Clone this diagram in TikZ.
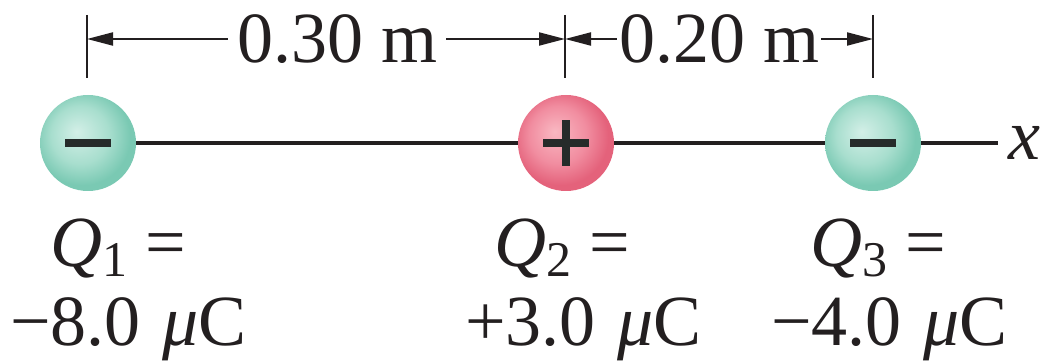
\documentclass[tikz,border=0pt]{standalone}
\usepackage{fontspec}
\setmainfont{Liberation Serif}
\usepackage{xcolor}
\usetikzlibrary{arrows.meta,backgrounds}
\definecolor{ink}{HTML}{231F20}
\definecolor{signc}{HTML}{262B2A}
\definecolor{negin}{HTML}{D3EFE7}
\definecolor{negmid}{HTML}{A8DECE}
\definecolor{negout}{HTML}{7AC9B3}
\definecolor{posin}{HTML}{F9B8C2}
\definecolor{posmid}{HTML}{F18DA0}
\definecolor{posout}{HTML}{E4627B}
\pgfdeclareradialshading{negball}{\pgfpoint{-6bp}{6bp}}{color(0bp)=(negin); color(15bp)=(negmid); color(25bp)=(negout); color(50bp)=(negout)}
\pgfdeclareradialshading{posball}{\pgfpoint{-6bp}{6bp}}{color(0bp)=(posin); color(15bp)=(posmid); color(25bp)=(posout); color(50bp)=(posout)}

\begin{document}
\begin{tikzpicture}[
  x=1pt, y=-1pt,
  font=\fontsize{72}{80}\selectfont,
  charge/.style={circle, minimum size=96pt, inner sep=0pt},
  sign/.style={line width=7.5pt, signc},
  axis/.style={line width=4pt, ink},
  tickln/.style={line width=2pt, ink},
  dim/.style={-{Triangle[length=26pt,width=13pt]}, line width=2pt, ink},
  dimlbl/.style={inner ysep=0pt, text=ink},
  qlbl/.style={anchor=base west, inner sep=0pt, text=ink},
]
\useasboundingbox (0,0) rectangle (1047,363);

% ---------- charges ----------
\node[charge, shading=negball] (q1) at (88,143) {};
\node[charge, shading=posball] (q2) at (566,143) {};
\node[charge, shading=negball] (q3) at (873,143) {};
\draw[sign] ([xshift=-23pt]q1.center) -- ([xshift=23pt]q1.center);
\draw[sign] ([xshift=-23pt]q2.center) -- ([xshift=23pt]q2.center);
\draw[sign] ([yshift=-23pt]q2.center) -- ([yshift=23pt]q2.center);
\draw[sign] ([xshift=-23pt]q3.center) -- ([xshift=23pt]q3.center);

% ---------- x axis ----------
\coordinate (xend) at (998,143);
\node[inner sep=0pt, text=ink] (xlbl) at (1024,143) {\itshape x};
\begin{scope}[on background layer]
  \draw[axis] (q1.center) -- (xend);
\end{scope}

% ---------- dimensions ----------
\coordinate (t1a) at (87,15);  \coordinate (t1b) at (87,78);
\coordinate (t2a) at (565,15); \coordinate (t2b) at (565,78);
\coordinate (t3a) at (873,15); \coordinate (t3b) at (873,78);
\draw[tickln] (t1a) -- (t1b);
\draw[tickln] (t2a) -- (t2b);
\draw[tickln] (t3a) -- (t3b);
\coordinate (a1) at (87,39);
\coordinate (a2) at (565,39);
\coordinate (a3) at (873,39);

\node[dimlbl, inner xsep=9pt] (d1) at (337,39) {0.30 m};
\draw[dim] (d1.west) -- (a1);
\draw[dim] (d1.east) -- (a2);
\node[dimlbl, inner xsep=2pt] (d2) at (719,39) {0.20 m};
\draw[dim] (d2.west) -- (a2);
\draw[dim] (d2.east) -- (a3);

% ---------- charge values ----------
\node[qlbl] (n1) at (50,267) {{\itshape Q}\raisebox{-10pt}{\fontsize{50}{50}\selectfont 1} =};
\node[qlbl] (v1) at (10,345) {−8.0\hspace{22pt}{\itshape μ}C};
\node[qlbl] (n2) at (494,267) {{\itshape Q}\raisebox{-10pt}{\fontsize{50}{50}\selectfont 2} =};
\node[qlbl] (v2) at (465,345) {+3.0\hspace{22pt}{\itshape μ}C};
\node[qlbl] (n3) at (810,267) {{\itshape Q}\raisebox{-10pt}{\fontsize{50}{50}\selectfont 3} =};
\node[qlbl] (v3) at (771,345) {−4.0\hspace{22pt}{\itshape μ}C};
\end{tikzpicture}
\end{document}
